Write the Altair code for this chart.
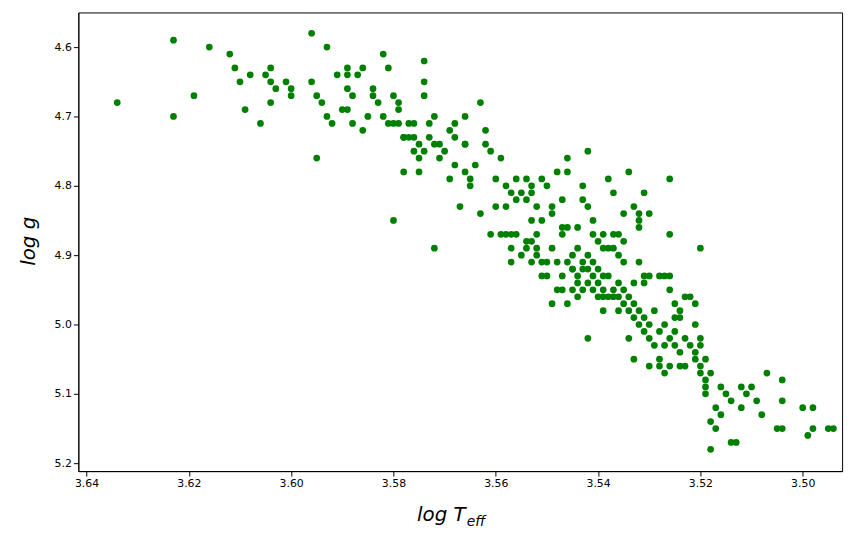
import altair as alt
import pandas as pd

teff = [3.634,3.623,3.623,3.619,3.616,3.612,3.611,3.610,3.609,3.608,3.606,3.605,3.604,3.604,3.604,3.603,3.601,3.600,3.600,3.596,3.596,3.595,3.594,3.595,3.593,3.593,3.592,3.591,3.590,3.589,3.589,3.589,3.589,3.588,3.588,3.587,3.586,3.586,3.585,3.584,3.584,3.582,3.581,3.581,3.580,3.580,3.579,3.579,3.578,3.577,3.576,3.575,3.575,3.574,3.574,3.574,3.573,3.573,3.572,3.572,3.571,3.570,3.569,3.568,3.568,3.567,3.566,3.566,3.565,3.564,3.563,3.563,3.562,3.561,3.561,3.560,3.559,3.558,3.557,3.557,3.556,3.555,3.554,3.554,3.553,3.552,3.551,3.550,
3.549,3.548,3.547,3.546,3.546,3.545,3.544,3.543,3.543,3.542,3.542,3.542,3.541,3.540,3.538,3.537,3.537,3.536,3.535,3.534,3.533,3.532,3.532,3.532,3.531,3.530,3.526,3.526,3.520,
3.559,3.558,3.556,3.554,3.553,3.553,3.552,3.552,3.551,3.550,3.549,3.548,3.547,3.547,3.546,3.546,3.545,3.545,3.544,3.544,3.543,3.543,3.542,3.542,3.542,3.541,3.541,3.540,3.540,3.539,3.539,3.539,3.538,3.537,3.537,3.536,3.536,3.535,3.535,3.534,3.534,3.533,3.533,3.532,3.532,3.531,3.531,3.530,3.530,3.529,3.529,3.528,3.528,3.527,3.527,3.526,3.526,3.525,3.524,3.524,3.523,3.522,3.521,3.520,3.519,3.518,3.518,3.517,3.516,3.515,3.514,3.514,3.513,3.512,3.512,3.511,3.510,3.509,3.508,3.507,3.505,3.504,3.504,3.504,3.500,3.499,3.498,3.498,3.495,3.494,3.518,3.517,3.519,3.521,3.519,3.516,
3.530,3.531,3.533,3.528,3.527,3.526,3.526,3.525,3.525,3.524,3.523,3.522,3.521,3.521,3.520,3.520,3.519,3.520,3.523,3.525,3.534,3.533,3.530,3.528,3.527,3.524,3.536,3.538,3.539,3.540,3.541,3.543,3.544,3.545,3.548,3.550,3.553,3.555,3.557,3.535,3.537,3.539,3.536,3.549,
3.578,3.575,3.576,3.574,3.572,3.571,3.569,3.566,3.565,3.562,3.560,3.558,3.557,3.556,3.554,3.553,3.552,3.551,3.551,3.549,3.547,3.546,3.547,3.544,3.541,3.539,3.538,3.535,3.532,3.531,3.576,3.578,3.577,3.583,3.582,3.580,3.579,3.568,3.566]

logg = [4.68,4.59,4.70,4.67,4.60,4.61,4.63,4.65,4.69,4.64,4.71,4.64,4.65,4.68,4.63,4.66,4.65,4.67,4.66,4.58,4.65,4.67,4.68,4.76,4.60,4.70,4.71,4.64,4.69,4.63,4.64,4.66,4.69,4.67,4.71,4.64,4.72,4.63,4.70,4.67,4.66,4.61,4.63,4.71,4.67,4.85,4.69,4.71,4.73,4.71,4.73,4.74,4.76,4.65,4.62,4.67,4.71,4.73,4.70,4.89,4.76,4.75,4.72,4.73,4.77,4.83,4.70,4.74,4.79,4.77,4.68,4.84,4.72,4.75,4.87,4.83,4.76,4.80,4.87,4.91,4.82,4.81,4.79,4.89,4.80,4.87,4.93,4.80,
4.84,4.78,4.82,4.76,4.78,4.92,4.94,4.80,4.82,4.75,4.83,5.02,4.85,4.88,4.79,4.81,4.87,4.87,4.88,4.78,4.83,4.84,4.85,4.86,4.81,4.84,4.79,4.87,4.89,
4.87,4.87,4.87,4.88,4.85,4.88,4.89,4.90,4.91,4.91,4.89,4.91,4.93,4.95,4.97,4.91,4.90,4.92,4.89,4.93,4.91,4.92,4.90,4.92,4.94,4.91,4.93,4.92,4.94,4.93,4.95,4.96,4.93,4.95,4.96,4.94,4.96,4.95,4.97,4.96,4.98,4.97,4.99,4.98,5.00,4.99,5.01,5.00,5.02,4.98,5.03,5.01,5.05,5.00,5.03,5.02,5.06,5.03,4.99,5.04,5.06,5.03,5.05,5.06,5.08,5.07,5.14,5.15,5.09,5.10,5.11,5.17,5.17,5.09,5.12,5.10,5.09,5.11,5.13,5.07,5.15,5.08,5.11,5.15,5.12,5.16,5.12,5.15,5.15,5.15,5.18,5.12,5.09,5.04,5.10,5.13,
4.93,4.94,4.94,4.93,4.93,4.93,4.95,4.97,4.99,4.98,4.96,4.96,4.97,5.00,5.02,5.03,5.05,5.07,5.02,5.01,5.02,5.05,5.06,5.06,5.07,5.06,4.98,4.96,4.98,4.96,4.95,4.95,4.96,4.95,4.95,4.93,4.91,4.90,4.89,4.91,4.89,4.89,4.90,4.97,
4.78,4.78,4.75,4.75,4.74,4.74,4.79,4.78,4.80,4.74,4.79,4.83,4.81,4.79,4.82,4.81,4.83,4.79,4.85,4.83,4.86,4.86,4.87,4.86,4.87,4.87,4.89,4.84,4.91,4.93,4.71,4.73,4.73,4.68,4.70,4.71,4.68,4.71,4.74]

x_ticks = [3.64, 3.62, 3.60, 3.58, 3.56, 3.54, 3.52, 3.50]
y_ticks = [4.6, 4.7, 4.8, 4.9, 5.0, 5.1, 5.2]

df = pd.DataFrame({"teff": teff, "logg": logg})

pts = alt.Chart(df).mark_circle(size=46, color="#008000", opacity=1).encode(
    x=alt.X("teff:Q", scale=alt.Scale(domain=[3.6416, 3.4923], nice=False, zero=False),
            axis=alt.Axis(values=x_ticks, format=".2f", title=None, grid=False,
                          labelFontSize=11, labelColor="black", tickColor="black", domainColor="black",
                          labelFont="DejaVu Sans")),
    y=alt.Y("logg:Q", scale=alt.Scale(domain=[4.55, 5.2114], reverse=True, nice=False, zero=False),
            axis=alt.Axis(values=y_ticks, format=".1f", title=None, grid=False,
                          labelFontSize=11, labelColor="black", tickColor="black", domainColor="black",
                          labelFont="DejaVu Sans")),
)

t1 = alt.Chart().mark_text(font="DejaVu Sans", fontSize=20, fontStyle="italic", align="right", baseline="alphabetic").encode(
    x=alt.value(391), y=alt.value(513), text=alt.value("log T"))
t2 = alt.Chart().mark_text(font="DejaVu Sans", fontSize=14, fontStyle="italic", align="left", baseline="alphabetic").encode(
    x=alt.value(392), y=alt.value(518), text=alt.value("eff"))
t3 = alt.Chart().mark_text(font="DejaVu Sans", fontSize=20, fontStyle="italic", angle=270, align="center", baseline="alphabetic").encode(
    x=alt.value(-44), y=alt.value(231), text=alt.value("log g"))

chart = (pts + t1 + t2 + t3).properties(
    width=771, height=463,
    autosize=alt.AutoSizeParams(type="none"),
    padding={"left": 71, "top": 2, "right": 10, "bottom": 60},
).configure_view(stroke="black", strokeWidth=1)

chart.save("out.html", embed_options={"renderer": "svg", "actions": False})
